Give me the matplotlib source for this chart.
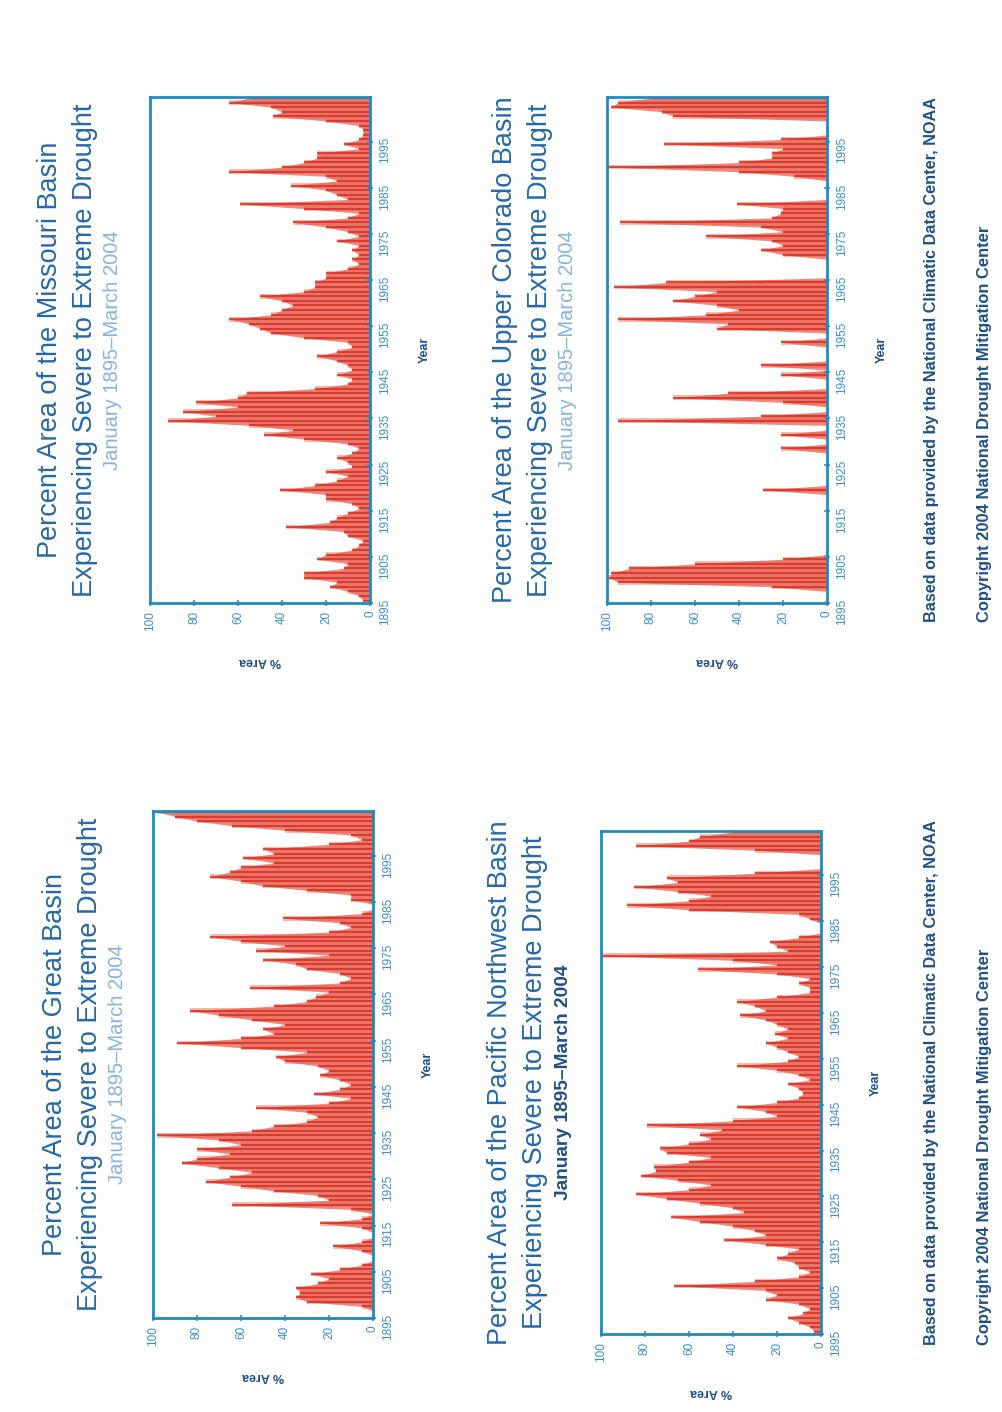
import numpy as np
import matplotlib.pyplot as plt

plt.rcParams['font.family'] = ['Liberation Sans', 'DejaVu Sans']

# annual peak of percent area in severe to extreme drought, 1895-2004
years = np.arange(1895, 2005)

missouri = [3, 5, 10, 18, 15, 30, 30, 12, 10, 24,
            20, 8, 5, 3, 10, 12, 38, 18, 15, 10,
            5, 8, 20, 20, 41, 25, 15, 10, 20, 8,
            10, 15, 8, 5, 10, 30, 48, 35, 55, 92,
            70, 85, 60, 79, 60, 56, 25, 10, 8, 15,
            8, 10, 15, 24, 15, 8, 10, 30, 45, 50,
            55, 64, 45, 40, 35, 40, 50, 30, 25, 25,
            20, 20, 10, 5, 8, 5, 8, 5, 15, 5,
            10, 20, 35, 10, 5, 30, 59, 10, 15, 20,
            36, 15, 20, 64, 40, 30, 24, 24, 5, 12,
            5, 3, 3, 5, 20, 44, 40, 45, 64, 55]

upper_colorado = [0, 0, 0, 25, 95, 99, 98, 90, 60, 20,
                  0, 0, 0, 0, 0, 0, 0, 0, 0, 0,
                  0, 0, 0, 0, 29, 0, 0, 0, 0, 0,
                  0, 0, 0, 21, 0, 0, 21, 0, 0, 95,
                  30, 0, 0, 20, 70, 45, 0, 0, 0, 21,
                  0, 30, 0, 0, 0, 0, 21, 0, 0, 50,
                  45, 95, 55, 40, 50, 70, 60, 50, 97, 73,
                  0, 0, 0, 0, 0, 20, 30, 20, 25, 55,
                  20, 30, 94, 25, 21, 20, 41, 0, 0, 0,
                  0, 0, 15, 40, 100, 40, 25, 25, 20, 74,
                  21, 0, 0, 0, 0, 70, 75, 98, 95, 80]

great_basin = [0, 0, 5, 30, 35, 33, 35, 25, 20, 28,
               15, 5, 0, 0, 5, 18, 5, 0, 0, 5,
               24, 5, 0, 10, 64, 20, 25, 45, 60, 76,
               65, 55, 70, 87, 80, 65, 80, 60, 70, 98,
               55, 45, 30, 25, 30, 53, 20, 10, 27, 15,
               10, 15, 24, 20, 25, 40, 44, 30, 60, 89,
               60, 45, 50, 40, 55, 70, 83, 45, 30, 26,
               20, 56, 15, 10, 15, 30, 35, 50, 20, 53,
               40, 60, 74, 20, 10, 15, 41, 5, 0, 0,
               10, 10, 30, 50, 60, 74, 65, 60, 45, 59,
               45, 50, 20, 5, 10, 40, 64, 80, 90, 98]

pacific_nw = [3, 5, 10, 15, 8, 5, 10, 25, 20, 25,
              67, 30, 10, 5, 10, 12, 20, 15, 10, 25,
              44, 25, 30, 40, 55, 68, 35, 40, 55, 70,
              84, 60, 50, 65, 82, 75, 76, 60, 50, 70,
              73, 60, 50, 55, 45, 79, 40, 20, 25, 38,
              20, 10, 8, 10, 15, 5, 10, 20, 38, 15,
              10, 15, 20, 25, 15, 21, 15, 20, 25, 37,
              25, 30, 38, 20, 5, 5, 10, 5, 20, 56,
              20, 40, 100, 15, 20, 23, 10, 0, 0, 0,
              5, 10, 60, 88, 60, 50, 65, 85, 65, 70,
              30, 0, 0, 0, 0, 30, 84, 60, 55, 40]

year_ticks = np.arange(1895, 2000, 10)
pct_ticks = np.arange(0, 101, 20)
subtitle = 'January 1895\u2013March 2004'
source_note = 'Based on data provided by the National Climatic Data Center, NOAA'
copyright_note = 'Copyright 2004 National Drought Mitigation Center'

W, H = 1003, 1412
frame_col = '#1d8cbf'
title_col = '#2468a8'
tick_col = '#3a8fcf'
dark_col = '#1f4f86'

fig = plt.figure(figsize=(W / 100, H / 100), dpi=100, facecolor='white')


def px(x, y):
    # pixel position (from top-left) to figure fraction
    return x / W, 1 - y / H


def panel(name, values, frame, title_x, bold_sub=False):
    x0, y0, x1, y1 = frame
    ax = fig.add_axes([x0 / W, 1 - y1 / H, (x1 - x0) / W, (y1 - y0) / H])
    vals = np.array(values, dtype=float)
    mid = years + 0.5
    # pale halo, softer body and a dark spike per year
    ax.fill_betweenx(mid, 0, vals, step='mid', color='#f8b8ad', lw=0)
    ax.fill_betweenx(mid, 0, vals, color='#e5584a', alpha=0.7, lw=0)
    ax.hlines(mid, 0, vals, color='#d52a1f', lw=1.1)
    ax.set_xlim(100, 0)
    ax.set_ylim(1895, 2004.7)
    ax.set_xticks(pct_ticks)
    ax.set_yticks(year_ticks)
    ax.yaxis.tick_right()
    ax.tick_params(axis='x', labelrotation=90, labelsize=8.5, colors=tick_col,
                   direction='inout', length=5, width=1.2, pad=3)
    ax.tick_params(axis='y', labelrotation=90, labelsize=8.5, colors=tick_col,
                   direction='inout', length=5, width=1.2, pad=4)
    for t in ax.get_xticklabels() + ax.get_yticklabels():
        t.set_color(tick_col)
    for s in ax.spines.values():
        s.set_color(frame_col)
        s.set_linewidth(2)

    yc = (y0 + y1) / 2
    xc = (x0 + x1) / 2
    fig.text(*px(title_x, yc), 'Percent Area of the ' + name,
             rotation=90, ha='center', va='center', fontsize=19.5,
             color=title_col)
    fig.text(*px(title_x + 35, yc), 'Experiencing Severe to Extreme Drought',
             rotation=90, ha='center', va='center', fontsize=19.5,
             color=title_col)
    fig.text(*px(title_x + 63, yc), subtitle, rotation=90, ha='center',
             va='center', fontsize=13.8 if bold_sub else 14.5,
             color=dark_col if bold_sub else '#86b4dc',
             fontweight='bold' if bold_sub else 'normal')
    fig.text(*px(x1 + 55, yc), 'Year', rotation=90, ha='center', va='center',
             fontsize=9, fontweight='bold', color=dark_col)
    fig.text(*px(xc, y1 + 58), '% Area', rotation=180, ha='center',
             va='center', fontsize=9, fontweight='bold', color=dark_col)


panel('Missouri Basin', missouri, (150, 97, 370, 603), 50)
panel('Upper Colorado Basin', upper_colorado, (607, 97, 827, 603), 505)
panel('Great Basin', great_basin, (153, 811, 373, 1318), 55)
panel('Pacific Northwest Basin', pacific_nw, (601, 831, 821, 1334), 500,
      bold_sub=True)

# footnotes, one set per half of the page
for base in (622, 1345):
    fig.text(*px(932, base), source_note, rotation=90, ha='center',
             va='bottom', fontsize=11.7, fontweight='bold', color=dark_col)
    fig.text(*px(985, base), copyright_note, rotation=90, ha='center',
             va='bottom', fontsize=11.9, fontweight='bold', color=dark_col)

fig.savefig('out.png', dpi=100, facecolor='white')
